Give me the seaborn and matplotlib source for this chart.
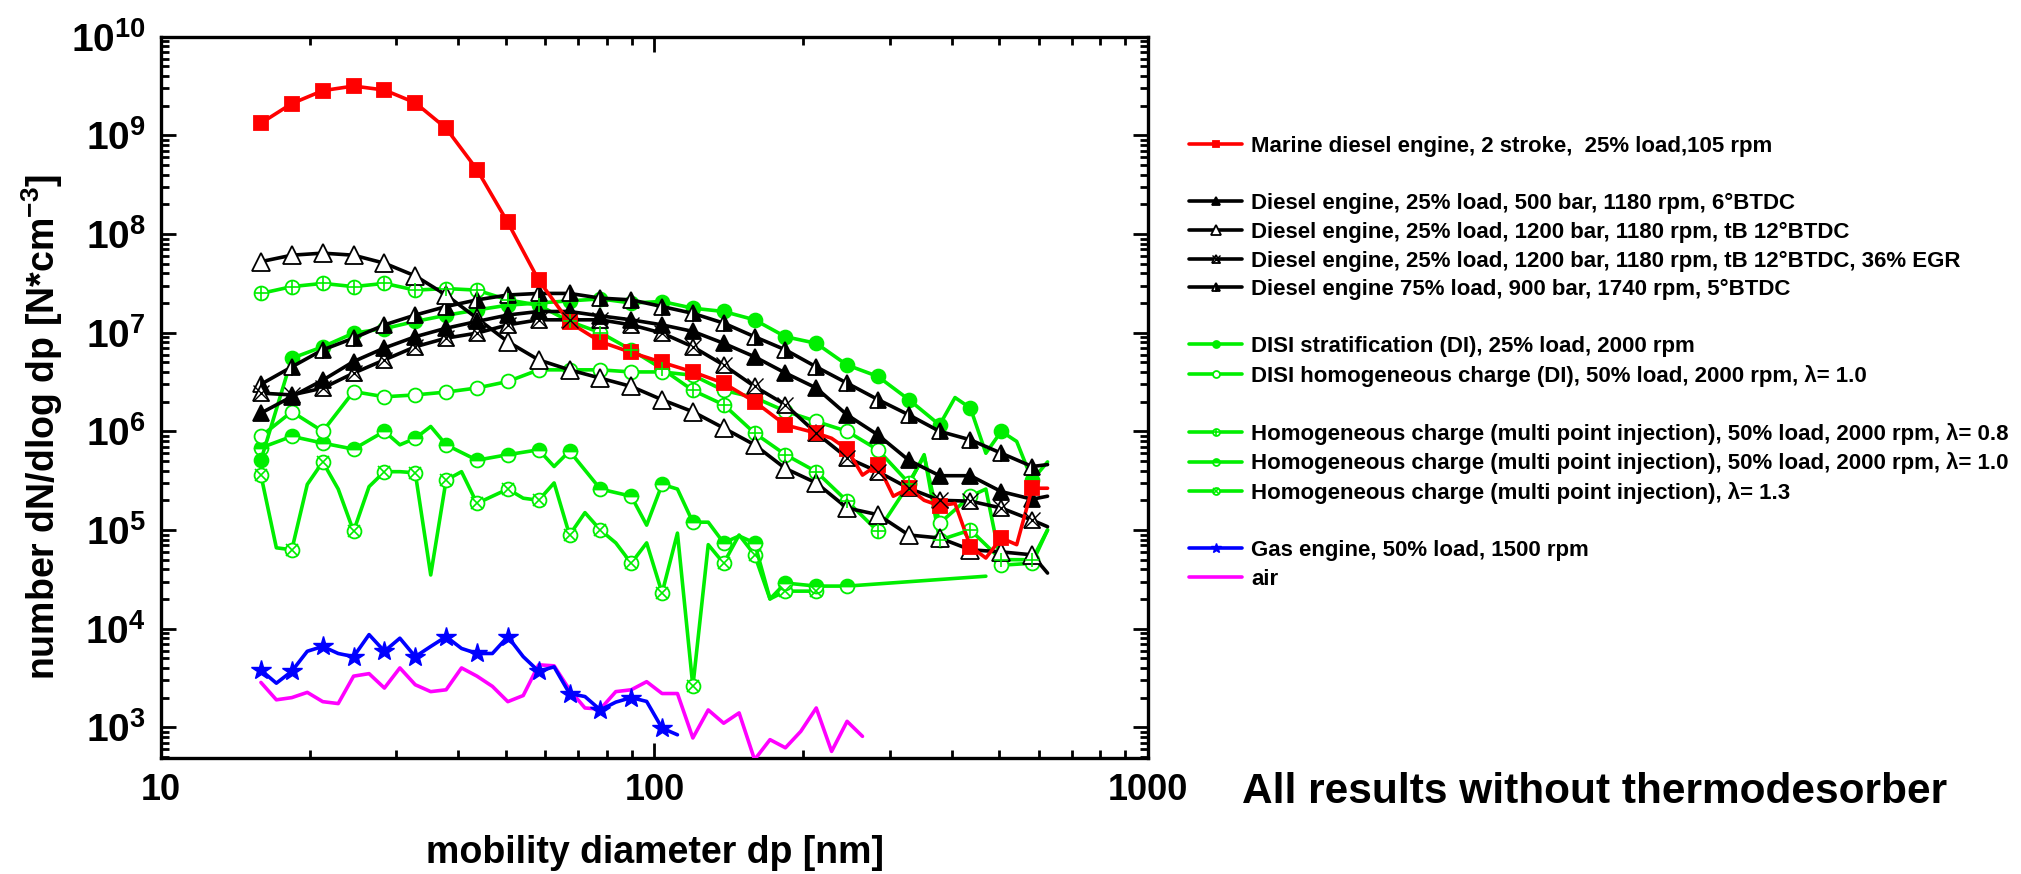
import matplotlib
matplotlib.use("Agg")
import matplotlib.pyplot as plt
from matplotlib.lines import Line2D
from matplotlib.legend_handler import HandlerTuple
from matplotlib.ticker import LogLocator, NullFormatter, FixedLocator
import seaborn as sns

N = None

# mobility diameter grid [nm] (every 2nd point carries a marker)
diam = [15.94, 17.13, 18.41, 19.79, 21.27, 22.86, 24.56, 26.40, 28.36, 30.48,
        32.75, 35.20, 37.82, 40.64, 43.68, 46.94, 50.44, 54.20, 58.25, 62.60,
        67.27, 72.29, 77.68, 83.48, 89.70, 96.40, 103.6, 111.3, 119.6, 128.5,
        138.1, 148.4, 159.5, 171.4, 184.2, 197.9, 212.7, 228.5, 245.6, 263.9,
        283.6, 304.7, 327.5, 351.9, 378.2, 406.4, 436.7, 469.3, 504.3, 541.9,
        582.4, 625.8]

# values at the marker positions (even grid points) + last point
d500_marks = [1.53e6, 2.25e6, 3.3e6, 5.1e6, 7.0e6, 9.1e6, 1.11e7, 1.3e7, 1.51e7, 1.64e7,
              1.64e7, 1.48e7, 1.35e7, 1.2e7, 1.03e7, 7.8e6, 5.7e6, 3.9e6, 2.75e6, 1.47e6,
              9.2e5, 5.1e5, 3.55e5, 3.55e5, 2.45e5, 2.05e5]
d500_end = 2.2e5
d1200_marks = [5.25e7, 6.1e7, 6.4e7, 6.1e7, 5.06e7, 3.76e7, 2.41e7, 1.4e7, 8.1e6, 5.3e6,
               4.2e6, 3.46e6, 2.85e6, 2.09e6, 1.58e6, 1.08e6, 7.3e5, 4.2e5, 3.0e5, 1.67e5,
               1.43e5, 8.9e4, 8.3e4, 6.3e4, 6.0e4, 5.6e4]
d1200_end = 3.66e4
egr_marks = [2.44e6, 2.34e6, 2.74e6, 3.89e6, 5.3e6, 7.2e6, 8.8e6, 9.9e6, 1.2e7, 1.35e7,
             1.35e7, 1.35e7, 1.2e7, 9.9e6, 7.2e6, 4.7e6, 2.85e6, 1.86e6, 9.6e5, 5.4e5,
             3.9e5, 2.65e5, 2.0e5, 1.96e5, 1.67e5, 1.26e5]
egr_end = 1.08e5
d75_marks = [3.0e6, 4.5e6, 6.7e6, 8.8e6, 1.2e7, 1.51e7, 1.84e7, 2.15e7, 2.41e7, 2.5e7,
             2.5e7, 2.24e7, 2.15e7, 1.84e7, 1.57e7, 1.25e7, 9.1e6, 6.7e6, 4.5e6, 3.08e6,
             2.1e6, 1.47e6, 1.0e6, 8.2e5, 6.0e5, 4.4e5]
d75_end = 4.6e5

# full-resolution series
marine = [1.33e9, N, 2.1e9, N, 2.84e9, N, 3.16e9, N, 2.88e9, N,
          2.14e9, N, 1.18e9, N, 4.5e8, N, 1.31e8, N, 3.4e7, N,
          1.27e7, N, 8.1e6, N, 6.3e6, N, 5.0e6, N, 4.0e6, N,
          3.08e6, N, 2.0e6, N, 1.16e6, N, 9.6e5, 8.5e5, 6.6e5, 3.6e5,
          4.6e5, 2.2e5, 2.65e5, 2.0e5, 1.76e5, 1.86e5, 6.8e4, 5.2e4, 8.3e4, 7.1e4,
          2.65e5, 2.65e5]
disi_strat = [5.1e5, N, 5.5e6, N, 7.2e6, N, 9.9e6, N, 1.1e7, N,
              1.3e7, N, 1.5e7, N, 1.7e7, N, 1.9e7, N, 2.0e7, N,
              2.1e7, N, 2.2e7, N, 2.0e7, N, 2.07e7, N, 1.77e7, N,
              1.64e7, N, 1.35e7, N, 9.1e6, N, 7.8e6, N, 4.7e6, N,
              3.6e6, N, 2.1e6, N, 1.16e6, 2.2e6, 1.72e6, 6.0e5, 1.0e6, 7.9e5,
              3.2e5, 4.9e5]
disi_homog = [8.9e5, N, 1.58e6, N, 1.0e6, N, 2.53e6, N, 2.24e6, N,
              2.34e6, N, 2.5e6, N, 2.75e6, N, 3.2e6, N, 4.2e6, N,
              4.2e6, N, 4.2e6, N, 4.0e6, N, 4.0e6, N, 3.7e6, N,
              2.6e6, N, 2.2e6, N, 1.6e6, N, 1.26e6, N, 1.0e6, N,
              6.5e5, N, 3.0e5, 5.6e5, 1.17e5, N, 2.2e5, 2.6e5, 4.4e4, N,
              4.6e4, 1.0e5]
homog08 = [2.5e7, N, 2.93e7, N, 3.16e7, N, 2.93e7, N, 3.16e7, N,
           2.7e7, N, 2.8e7, N, 2.7e7, N, 2.15e7, N, 1.9e7, N,
           1.3e7, N, 1.0e7, N, 6.7e6, N, 4.3e6, N, 2.6e6, N,
           1.86e6, N, 9.6e5, N, 5.8e5, N, 3.9e5, N, 1.96e5, N,
           9.7e4, N, 2.9e5, 5.8e5, 7.9e4, N, 1.0e5, N, 5.0e4, N,
           5.0e4, 1.0e5]
homog10 = [6.8e5, N, 8.9e5, N, 7.6e5, N, 6.6e5, N, 1.0e6, 7.3e5,
           8.5e5, 1.12e6, 7.3e5, N, 5.1e5, N, 5.8e5, N, 6.5e5, 4.4e5,
           6.3e5, N, 2.6e5, N, 2.2e5, 1.12e5, 2.9e5, 2.6e5, 1.2e5, 1.2e5,
           7.4e4, 8.7e4, 7.4e4, 2.0e4, 2.9e4, N, 2.7e4, N, 2.7e4, N,
           N, N, N, N, N, N, N, 3.4e4, N, N,
           N, N]
homog13 = [3.6e5, 6.6e4, 6.3e4, 2.9e5, 4.9e5, 2.6e5, 9.7e4, 2.75e5, 3.9e5, 3.9e5,
           3.8e5, 3.5e4, 3.2e5, 3.9e5, 1.86e5, 2.2e5, 2.6e5, 2.1e5, 2.0e5, 3.0e5,
           8.9e4, 1.5e5, 1.0e5, 7.4e4, 4.6e4, 7.4e4, 2.3e4, 9.3e4, 2.6e3, 7.1e4,
           4.6e4, 8.9e4, 5.6e4, 2.0e4, 2.4e4, N, 2.4e4, N, N, N,
           N, N, N, N, N, N, N, N, N, N,
           N, N]
gas = [3.8e3, 2.8e3, 3.7e3, 5.9e3, 6.6e3, 5.6e3, 5.2e3, 8.7e3, 5.9e3, 8.0e3,
       5.2e3, 6.6e3, 8.3e3, 6.3e3, 5.6e3, 5.6e3, 8.3e3, 5.2e3, 3.7e3, 4.1e3,
       2.2e3, 2.05e3, 1.5e3, 1.8e3, 2.0e3, 1.83e3, 9.8e2, 8.4e2]
air = [2.85e3, 1.9e3, 2.0e3, 2.26e3, 1.82e3, 1.74e3, 3.3e3, 3.5e3, 2.5e3, 4.0e3,
       2.7e3, 2.3e3, 2.4e3, 4.0e3, 3.3e3, 2.6e3, 1.82e3, 2.1e3, 4.3e3, 4.2e3,
       2.4e3, 1.57e3, 1.53e3, 2.3e3, 2.4e3, 2.9e3, 2.2e3, 2.2e3, 7.8e2, 1.5e3,
       1.1e3, 1.4e3, 4.7e2, 7.5e2, 6.2e2, 9.1e2, 1.57e3, 5.7e2, 1.15e3, 8.1e2]

labels = [
    "Marine diesel engine, 2 stroke,  25% load,105 rpm",
    "Diesel engine, 25% load, 500 bar, 1180 rpm, 6°BTDC",
    "Diesel engine, 25% load, 1200 bar, 1180 rpm, tB 12°BTDC",
    "Diesel engine, 25% load, 1200 bar, 1180 rpm, tB 12°BTDC, 36% EGR",
    "Diesel engine 75% load, 900 bar, 1740 rpm, 5°BTDC",
    "DISI stratification (DI), 25% load, 2000 rpm",
    "DISI homogeneous charge (DI), 50% load, 2000 rpm, λ= 1.0",
    "Homogeneous charge (multi point injection), 50% load, 2000 rpm, λ= 0.8",
    "Homogeneous charge (multi point injection), 50% load, 2000 rpm, λ= 1.0",
    "Homogeneous charge (multi point injection), λ= 1.3",
    "Gas engine, 50% load, 1500 rpm",
    "air",
]


def from_marks(marks, end):
    y = [N] * len(diam)
    y[0::2] = marks
    y[-1] = end
    return y


def pts(y):
    xs, ys, mk = [], [], []
    for i, v in enumerate(y):
        if v is not None:
            if i % 2 == 0:
                mk.append(len(xs))
            xs.append(diam[i])
            ys.append(v)
    return xs, ys, mk


GREEN = "#00ee00"

sns.set_theme(style="ticks")
plt.rcParams["font.family"] = ["Liberation Sans", "DejaVu Sans"]
plt.rcParams["font.weight"] = "bold"
plt.rcParams["text.color"] = "black"
plt.rcParams["axes.labelcolor"] = "black"
plt.rcParams["xtick.color"] = "black"
plt.rcParams["ytick.color"] = "black"
plt.rcParams["mathtext.fontset"] = "custom"
plt.rcParams["mathtext.rm"] = "Liberation Sans:bold"
plt.rcParams["mathtext.bf"] = "Liberation Sans:bold"
plt.rcParams["mathtext.it"] = "Liberation Sans:bold"

fig = plt.figure(figsize=(20.21, 8.74), dpi=100)
ax = fig.add_axes([161 / 2021, 1 - 757.7 / 874, 987 / 2021, 721 / 874])


def draw(y, color, marker=None, ms=10, mfc=None, mfc_alt=None, fill="full",
         lw=2.6, mew=1.3, z=3):
    xs, ys, mk = pts(y)
    sns.lineplot(x=xs, y=ys, ax=ax, color=color, lw=lw, sort=False,
                 marker=marker if marker else "", markersize=ms,
                 markevery=mk, markerfacecolor=mfc if mfc else color,
                 markerfacecoloralt=mfc_alt if mfc_alt else "white",
                 fillstyle=fill, markeredgecolor=color, markeredgewidth=mew,
                 zorder=z)
    line = ax.lines[-1]
    return line, xs, ys, mk


def overlay(xs, ys, mk, color, marker, ms, mew=1.2):
    ax.plot([xs[i] for i in mk], [ys[i] for i in mk], ls="none",
            marker=marker, ms=ms, mec=color, mew=mew, color=color, zorder=4)
    return ax.lines[-1]


h_air, *_ = draw(air, "#ff00ff")
h_gas, *_ = draw(gas, "#0000ff", marker="*", ms=15, mew=1.0)
h13, xs, ys, mk = draw(homog13, GREEN, marker="o", ms=10, mfc="white")
h13x = overlay(xs, ys, mk, GREEN, "x", 8)
h10, *_ = draw(homog10, GREEN, marker="o", ms=10, fill="top")
h08, xs, ys, mk = draw(homog08, GREEN, marker="o", ms=10, mfc="white")
h08x = overlay(xs, ys, mk, GREEN, "+", 10)
h_dh, *_ = draw(disi_homog, GREEN, marker="o", ms=10, mfc="white")
h_ds, *_ = draw(disi_strat, GREEN, marker="o", ms=10)
h75, *_ = draw(from_marks(d75_marks, d75_end), "black", marker="^", ms=12,
               mfc="black", fill="right")
h_egr, xs, ys, mk = draw(from_marks(egr_marks, egr_end), "black", marker="^",
                         ms=12, mfc="white")
h_egrx = overlay(xs, ys, mk, "black", "x", 12, mew=1.0)
h1200, *_ = draw(from_marks(d1200_marks, d1200_end), "black", marker="^",
                 ms=13, mfc="white")
h500, *_ = draw(from_marks(d500_marks, d500_end), "black", marker="^", ms=12)
h_mar, *_ = draw(marine, "#ff0000", marker="s", ms=10)

ax.set_xscale("log")
ax.set_yscale("log")
ax.set_xlim(10, 1000)
ax.set_ylim(492, 1e10)

ax.xaxis.set_major_locator(FixedLocator([10, 100, 1000]))
ax.xaxis.set_minor_locator(LogLocator(base=10, subs=range(2, 10), numticks=20))
ax.xaxis.set_minor_formatter(NullFormatter())
ax.set_xticklabels(["10", "100", "1000"])
ax.yaxis.set_major_locator(FixedLocator([10.0 ** e for e in range(3, 11)]))
ax.yaxis.set_minor_locator(LogLocator(base=10, subs=range(2, 10), numticks=20))
ax.yaxis.set_minor_formatter(NullFormatter())
ax.set_yticklabels([r"$10^{%d}$" % e for e in range(3, 11)])

ax.tick_params(which="both", direction="in", top=True, right=True,
               width=2.0, colors="black", labelsize=26)
ax.tick_params(axis="y", which="major", labelsize=28)
ax.tick_params(which="major", length=11, pad=11)
ax.tick_params(which="minor", length=6)
for s in ax.spines.values():
    s.set_linewidth(2.4)
    s.set_color("black")
ax.grid(False)

ax.set_xlabel("")
ax.set_ylabel("")
fig.text(655 / 2021, 1 - 853 / 874, "mobility diameter dp [nm]", ha="center",
         va="center", fontsize=27, fontweight="bold")
fig.text(42 / 2021, 1 - 427 / 874, r"number dN/dlog dp [N*cm$^{-3}$]",
         rotation=90, ha="center", va="center", fontsize=27, fontweight="bold")
fig.text(1242 / 2021, 1 - 792 / 874, "All results without thermodesorber",
         ha="left", va="center", fontsize=30.5, fontweight="bold")

blank = Line2D([], [], color="none")
leg_handles = [h_mar, blank, h500, h1200, (h_egr, h_egrx), h75, blank,
               h_ds, h_dh, blank, (h08, h08x), h10, (h13, h13x), blank,
               h_gas, h_air]
leg_labels = [labels[0], " ", labels[1], labels[2], labels[3], labels[4], " ",
              labels[5], labels[6], " ", labels[7], labels[8], labels[9], " ",
              labels[10], labels[11]]
leg = ax.legend(leg_handles, leg_labels, loc="upper left",
                bbox_to_anchor=(1189 / 2021, 1 - 136 / 874),
                bbox_transform=fig.transFigure, frameon=False,
                fontsize=16, handlelength=2.4, handletextpad=0.4,
                labelspacing=0.34, borderpad=0, borderaxespad=0,
                markerscale=0.5,
                handler_map={tuple: HandlerTuple(ndivide=1)})
for t in leg.get_texts():
    t.set_fontweight("bold")
    t.set_color("black")

fig.savefig("out.png", dpi=100)
